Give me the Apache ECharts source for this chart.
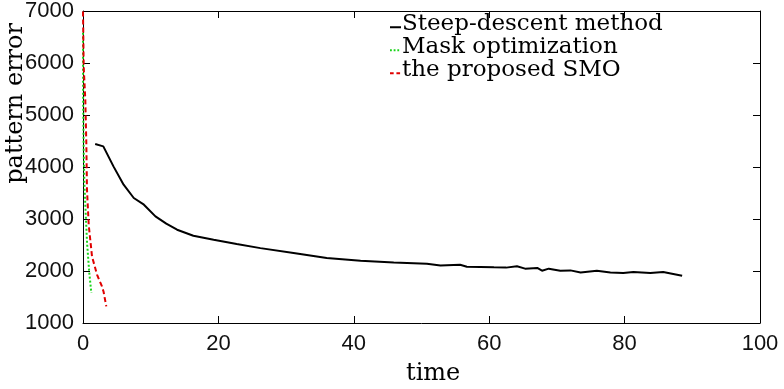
<!DOCTYPE html>
<html>
<head>
<meta charset="utf-8">
<script src="https://cdn.jsdelivr.net/npm/echarts@6/dist/echarts.min.js"></script>
<style>html,body{margin:0;padding:0;background:#fff;}#c{width:784px;height:389px;}</style>
</head>
<body>
<div id="c"></div>
<script>
// ---- data ----
const seriesNames = ['Steep-descent method', 'Mask optimization', 'the proposed SMO'];
const steepT = [1.8, 3.0, 4.5, 6.0, 7.5, 9.0, 10.7, 12.3, 13.9, 16.3, 19.3, 22.7, 26.2, 31.1, 36.0, 41.0, 45.9, 50.8, 52.8, 55.7, 56.7, 60.7, 62.5, 64.1, 65.3, 67.1, 67.8, 68.8, 70.5, 72.0, 73.5, 75.9, 77.9, 79.8, 81.3, 83.8, 85.7, 87.0, 88.5];
const steepV = [4442, 4396, 4012, 3660, 3404, 3275, 3050, 2910, 2794, 2679, 2602, 2519, 2440, 2346, 2250, 2198, 2165, 2140, 2108, 2121, 2083, 2070, 2065, 2090, 2045, 2058, 2006, 2045, 2006, 2012, 1973, 2006, 1973, 1962, 1980, 1962, 1980, 1948, 1910];
const maskT = [0.0, 0.02, 0.1, 0.2, 0.4, 0.6, 0.93, 1.23];
const maskV = [6580, 5300, 4333, 3698, 3100, 2538, 1962, 1577];
const smoT = [0.0, 0.1, 0.34, 0.49, 0.59, 0.85, 1.33, 2.07, 2.8, 3.04, 3.44];
const smoV = [6992, 5935, 5294, 4467, 3563, 2880, 2280, 1930, 1704, 1600, 1319];
const xTicks = [0, 20, 40, 60, 80, 100];
const yTicks = [1000, 2000, 3000, 4000, 5000, 6000, 7000];
const xLabel = 'time';
const yLabel = 'pattern error';

const zip = (t, v) => t.map((x, i) => [x, v[i]]);

const chart = echarts.init(document.getElementById('c'), null, {renderer: 'canvas'});
const tickFont = {fontFamily: 'Liberation Sans', fontSize: 22, color: '#111'};
const serif = 'DejaVu Serif';
const axisCommon = {
  axisLine: {show: true, onZero: false, lineStyle: {color: '#000', width: 1}},
  axisTick: {show: true, inside: true, length: 7, lineStyle: {color: '#000', width: 1}},
  splitLine: {show: false}
};
// legend icons: invisible top/bottom bounds + short stroke slightly below text centre
const bounds = 'M0,0L12,0L12,0.01L0,0.01Z M0,11.99L12,11.99L12,12L0,12Z ';
const iconSolid = 'path://' + bounds + 'M0,8h12v2h-12z';
const iconDot = 'path://' + bounds + 'M0,8h2v2h-2z M4,8h2v2h-2z M8,8h2v2h-2z';
const iconDash = 'path://' + bounds + 'M0,8h4v2h-4z M7,8h4v2h-4z';
chart.setOption({
  animation: false,
  backgroundColor: '#fff',
  grid: {left: 83, top: 11, right: 24, bottom: 66, containLabel: false},
  xAxis: [
    Object.assign({type: 'value', position: 'bottom', min: xTicks[0], max: xTicks[xTicks.length - 1], interval: 20,
      axisLabel: Object.assign({margin: 10, formatter: v => String(v)}, tickFont)}, axisCommon),
    Object.assign({type: 'value', position: 'top', min: xTicks[0], max: xTicks[xTicks.length - 1], interval: 20,
      axisLabel: {show: false}}, axisCommon)
  ],
  yAxis: [
    Object.assign({type: 'value', position: 'left', min: yTicks[0], max: yTicks[yTicks.length - 1], interval: 1000,
      axisLabel: Object.assign({margin: 9, formatter: v => String(v)}, tickFont)}, axisCommon),
    Object.assign({type: 'value', position: 'right', min: yTicks[0], max: yTicks[yTicks.length - 1], interval: 1000,
      axisLabel: {show: false}}, axisCommon)
  ],
  legend: {
    orient: 'vertical', left: 390, top: 13, padding: 0, itemGap: 0,
    itemWidth: 11, itemHeight: 12,
    textStyle: {fontFamily: serif, fontSize: 23, color: '#000', lineHeight: 23, padding: [0, 0, 0, -4]},
    data: [
      {name: seriesNames[0], icon: iconSolid},
      {name: seriesNames[1], icon: iconDot},
      {name: seriesNames[2], icon: iconDash}
    ]
  },
  graphic: [
    {type: 'text', left: 4, top: 23, rotation: Math.PI / 2,
      style: {text: yLabel, fontFamily: serif, fontSize: 24, fill: '#000'}},
    {type: 'text', left: 406, top: 362,
      style: {text: xLabel, fontFamily: serif, fontSize: 24, fill: '#000'}}
  ],
  series: [
    {name: seriesNames[0], type: 'line', data: zip(steepT, steepV), symbol: 'none', smooth: false,
      lineStyle: {color: '#000', width: 2}, itemStyle: {color: '#000'}},
    {name: seriesNames[1], type: 'line', data: zip(maskT, maskV), symbol: 'none',
      lineStyle: {color: '#19d419', width: 2, type: [2, 2]}, itemStyle: {color: '#19d419'}},
    {name: seriesNames[2], type: 'line', data: zip(smoT, smoV), symbol: 'none',
      lineStyle: {color: '#e00000', width: 2, type: [5, 3]}, itemStyle: {color: '#e00000'}}
  ]
});
</script>
</body>
</html>
